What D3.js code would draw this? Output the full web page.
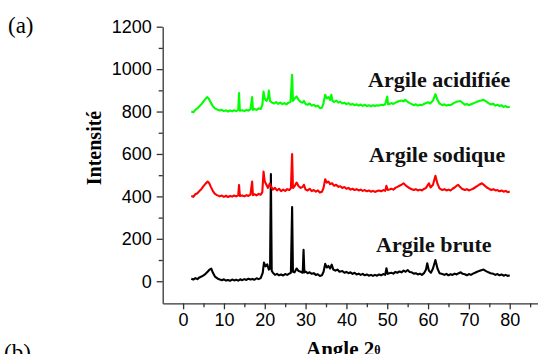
<!DOCTYPE html>
<html><head><meta charset="utf-8">
<script src="https://cdn.jsdelivr.net/npm/d3@7"></script>
<style>
html,body{margin:0;padding:0;background:#fff;}
svg{display:block;}
</style></head>
<body>
<svg id="c" width="538" height="354"></svg>
<script>
// ---- data ----
const xMajorTicks = [0,10,20,30,40,50,60,70,80];
const xMinorTicks = [5,15,25,35,45,55,65,75,85];
const yMajorTicks = [0,200,400,600,800,1000,1200];
const yMinorTicks = [100,300,500,700,900,1100];
const seriesNames = ["Argile brute","Argile sodique","Argile acidifiée"];
const seriesColors = ["#000000","#ff0000","#00ff00"];

const brute = [[2,12],[2.5,8],[3,15],[3.5,10],[4,18],[4.5,22],[5,28],[5.5,35],[6,45],[6.5,55],[6.9,60],[7.3,40],[7.8,22],[8.5,12],[9,8],[9.5,5],[10,9],[10.5,3],[11,6],[11.5,2],[12,8],[12.5,4],[13,7],[13.5,3],[14,9],[14.5,5],[15,10],[15.5,6],[16,12],[16.5,8],[17,11],[17.5,7],[18,14],[18.5,10],[19,15],[19.5,40],[19.8,88],[20.2,70],[20.6,80],[21,55],[21.3,60],[21.5,505],[21.7,50],[22,40],[22.5,30],[23,35],[23.5,28],[24,32],[24.5,27],[25,34],[25.5,30],[26,36],[26.4,40],[26.7,350],[26.9,45],[27.3,42],[27.8,60],[28.3,48],[28.8,45],[29.3,40],[29.5,148],[29.7,42],[30,46],[30.5,38],[31,42],[31.5,35],[32,38],[32.5,30],[33,33],[33.5,25],[34,28],[34.4,45],[34.8,82],[35.2,65],[35.6,72],[36,60],[36.4,78],[36.8,55],[37.3,50],[37.8,55],[38.3,45],[39,48],[39.5,40],[40,44],[40.5,38],[41,42],[41.5,35],[42,40],[42.5,32],[43,36],[43.5,30],[44,35],[44.5,28],[45,32],[45.5,26],[46,30],[46.5,25],[47,30],[47.5,26],[48,32],[48.5,28],[49,34],[49.5,30],[49.8,61],[50.1,35],[50.5,38],[51,40],[51.5,36],[52,44],[52.5,40],[53,46],[53.5,42],[54,50],[54.5,45],[55,53],[55.5,44],[56,42],[56.5,36],[57,38],[57.5,32],[58,36],[58.5,30],[59,38],[59.5,55],[59.8,85],[60.2,50],[60.7,40],[61.2,60],[61.8,100],[62.3,60],[62.8,38],[63.5,34],[64,30],[64.5,35],[65,28],[65.5,33],[66,30],[66.5,36],[67,32],[67.5,38],[68,42],[68.5,35],[69,33],[69.5,28],[70,34],[70.5,30],[71,36],[71.5,40],[72,45],[72.5,48],[73,52],[73.6,55],[74.2,48],[74.8,42],[75.3,38],[76,35],[76.5,30],[77,34],[77.5,28],[78,32],[78.5,26],[79,30],[79.5,25],[80,28]];

const sodique = [[2,402],[2.5,398],[3,410],[3.5,415],[4,425],[4.5,435],[5,448],[5.5,460],[6,470],[6.4,462],[6.8,445],[7.3,425],[7.8,412],[8.3,406],[9,400],[9.5,404],[10,398],[10.5,403],[11,397],[11.5,402],[12,399],[12.5,404],[13,400],[13.5,405],[13.7,454],[13.9,402],[14.5,404],[15,400],[15.5,406],[16,402],[16.5,408],[16.9,470],[17.1,406],[17.5,410],[18,405],[18.5,412],[19,408],[19.4,420],[19.7,517],[20,470],[20.4,455],[20.8,440],[21.2,460],[21.5,448],[22,432],[22.5,440],[23,428],[23.5,436],[24,425],[24.5,432],[25,426],[25.5,434],[26,430],[26.4,438],[26.7,600],[26.9,440],[27.3,448],[27.8,465],[28.3,448],[28.8,440],[29.3,445],[29.6,455],[30,432],[30.5,428],[31,436],[31.5,425],[32,430],[32.5,422],[33,428],[33.5,418],[34,422],[34.4,440],[34.8,481],[35.2,465],[35.6,470],[36,458],[36.5,462],[37,450],[37.5,455],[38,445],[38.5,448],[39,440],[39.5,444],[40,436],[40.5,440],[41,432],[41.5,436],[42,430],[42.5,434],[43,428],[43.5,432],[44,426],[44.5,430],[45,424],[45.5,428],[46,422],[46.5,426],[47,421],[47.5,425],[48,428],[48.5,424],[49,430],[49.5,426],[49.8,450],[50.1,430],[50.5,432],[51,436],[51.5,432],[52,440],[52.5,445],[53,450],[53.5,455],[54,462],[54.5,452],[55,445],[55.5,438],[56,434],[56.5,430],[57,434],[57.5,428],[58,432],[58.5,428],[59,435],[59.5,440],[60.2,462],[60.6,442],[61.2,455],[61.8,497],[62.3,460],[62.8,438],[63.5,430],[64,434],[64.5,428],[65,432],[65.5,428],[66,436],[66.5,442],[67,450],[67.4,454],[67.8,445],[68.3,436],[69,430],[69.5,434],[70,428],[70.5,432],[71,436],[71.5,442],[72,448],[72.5,455],[73.2,462],[73.8,452],[74.4,442],[75,435],[75.5,430],[76,434],[76.5,428],[77,430],[77.5,424],[78,428],[78.5,422],[79,426],[79.5,420],[80,423]];

const acidifiee = [[2,800],[2.5,796],[3,808],[3.5,815],[4,825],[4.5,835],[5,848],[5.5,860],[5.9,868],[6.3,860],[6.8,842],[7.3,825],[7.8,815],[8.3,810],[9,805],[9.5,808],[10,802],[10.5,806],[11,800],[11.5,805],[12,801],[12.5,806],[13,802],[13.5,807],[13.7,887],[13.9,804],[14.5,806],[15,802],[15.5,808],[16,804],[16.5,810],[16.9,868],[17.1,808],[17.5,812],[18,808],[18.5,815],[19,812],[19.4,830],[19.7,894],[20,860],[20.4,850],[20.8,865],[21,899],[21.3,850],[21.8,842],[22.3,838],[22.8,845],[23.3,836],[23.8,842],[24.3,835],[24.8,840],[25.3,834],[25.8,842],[26.3,845],[26.7,973],[26.9,850],[27.3,862],[27.8,871],[28.3,855],[28.8,845],[29.3,842],[29.6,850],[30,835],[30.5,832],[31,838],[31.5,828],[32,832],[32.5,824],[33,828],[33.5,816],[34,818],[34.4,840],[34.8,879],[35.2,862],[35.6,868],[36,855],[36.3,879],[36.6,850],[37,845],[37.5,852],[38,842],[38.5,846],[39,838],[39.5,842],[40,835],[40.5,840],[41,832],[41.5,836],[42,830],[42.5,834],[43,828],[43.5,833],[44,827],[44.5,832],[45,826],[45.5,830],[46,825],[46.5,830],[47,826],[47.5,830],[48,828],[48.5,832],[49,830],[49.5,834],[50,871],[50.2,835],[50.6,836],[51,840],[51.5,836],[52,842],[52.5,846],[53,850],[53.5,852],[54,848],[54.4,855],[55,846],[55.5,840],[56,835],[56.5,830],[57,834],[57.5,828],[58,832],[58.5,830],[59,836],[59.5,840],[60,844],[60.5,838],[61.2,852],[61.8,882],[62.3,855],[62.8,838],[63.5,830],[64,834],[64.5,828],[65,832],[65.5,830],[66,836],[66.5,842],[67,846],[67.9,850],[68.5,840],[69,832],[69.5,836],[70,830],[70.5,834],[71,838],[71.5,842],[72,846],[72.5,850],[73,852],[73.6,855],[74.2,848],[74.8,840],[75.3,834],[76,836],[76.5,828],[77,832],[77.5,826],[78,830],[78.5,822],[79,826],[79.5,820],[80,823]];

const seriesData = [brute, sodique, acidifiee];

// ---- drawing ----
const svg = d3.select("#c");
const x = d3.scaleLinear().domain([-5, 87]).range([162.7, 538.3]);
const y = d3.scaleLinear().domain([-104, 1200]).range([303.3, 26.7]);
const axisColor = "#333";
const tickFont = "Liberation Sans, Arial, sans-serif";
const serif = "Liberation Serif, Times New Roman, serif";

// curves
const line = d3.line().x(d => x(d[0])).y(d => y(d[1]));
seriesData.forEach((s, i) => {
  svg.append("path").datum(s)
    .attr("fill", "none")
    .attr("stroke", seriesColors[i])
    .attr("stroke-width", 2.1)
    .attr("stroke-linejoin", "round")
    .attr("d", line);
});

// axes
function styleAxis(g) {
  g.selectAll("path.domain").attr("stroke", axisColor).attr("stroke-width", 1.3);
  g.selectAll(".tick line").attr("stroke", axisColor).attr("stroke-width", 1.3);
  g.selectAll(".tick text").attr("fill", "#000").attr("font-family", tickFont).attr("font-size", 18);
}
const fmt = d3.format("d");
const yAxisG = svg.append("g").attr("transform", `translate(${x(-5)},0)`)
  .call(d3.axisLeft(y).tickValues(yMajorTicks).tickFormat(fmt).tickSize(6).tickPadding(5).tickSizeOuter(0));
styleAxis(yAxisG);
const yMinG = svg.append("g").attr("transform", `translate(${x(-5)},0)`)
  .call(d3.axisLeft(y).tickValues(yMinorTicks).tickSize(4).tickFormat(""));
yMinG.select("path.domain").remove();
styleAxis(yMinG);

const xAxisG = svg.append("g").attr("transform", `translate(0,${y(-104)})`)
  .call(d3.axisBottom(x).tickValues(xMajorTicks).tickFormat(fmt).tickSize(6).tickPadding(4).tickSizeOuter(0));
styleAxis(xAxisG);
const xMinG = svg.append("g").attr("transform", `translate(0,${y(-104)})`)
  .call(d3.axisBottom(x).tickValues(xMinorTicks).tickSize(4).tickFormat(""));
xMinG.select("path.domain").remove();
styleAxis(xMinG);

// series labels
const labelPos = [[376, 251.7], [369, 162], [368, 87.3]];
seriesNames.forEach((n, i) => {
  svg.append("text").attr("x", labelPos[i][0]).attr("y", labelPos[i][1])
    .attr("font-family", serif).attr("font-weight", "bold").attr("font-size", 22)
    .attr("fill", "#111").text(n);
});

// axis titles
svg.append("text")
  .attr("transform", `translate(101,148) rotate(-90)`)
  .attr("text-anchor", "middle")
  .attr("font-family", serif).attr("font-weight", "bold").attr("font-size", 20)
  .text("Intensité");

const xt = svg.append("text").attr("x", 306).attr("y", 356)
  .attr("font-family", serif).attr("font-weight", "bold").attr("font-size", 21);
xt.append("tspan").text("Angle 2");
xt.append("tspan").attr("font-size", 12).attr("dy", -2).text("θ");

// panel letters
svg.append("text").attr("x", 4).attr("y", 360)
  .attr("font-family", serif).attr("font-size", 23).text("(b)");
svg.append("text").attr("x", 8).attr("y", 33)
  .attr("font-family", serif).attr("font-size", 23).text("(a)");
</script>
</body></html>
